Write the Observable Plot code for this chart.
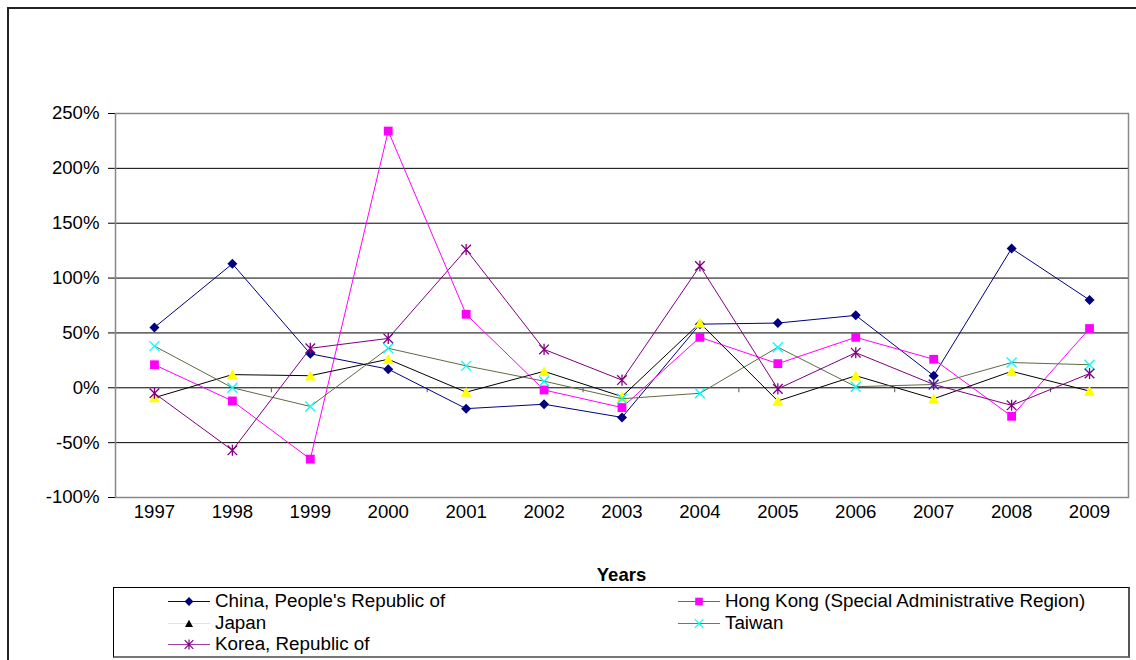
<!DOCTYPE html>
<html>
<head>
<meta charset="utf-8">
<script src="https://cdn.jsdelivr.net/npm/d3@7"></script>
<script src="https://cdn.jsdelivr.net/npm/@observablehq/plot@0.6"></script>
<style>
  html, body { margin: 0; padding: 0; background: #fff; overflow: hidden; }
  body { width: 1136px; height: 660px; position: relative; font-family: "Liberation Sans", Arial, sans-serif; }
  #outer { position: absolute; left: 7px; top: 7px; width: 1200px; height: 700px; border: 2px solid #222; box-sizing: border-box; }
  #chart { position: absolute; left: 0; top: 0; }
  #chart svg text { font-size: 18.6px; }
  #xlabel { position: absolute; left: 115px; width: 1013px; top: 564px; text-align: center; font-weight: bold; font-size: 18.5px; line-height: 22px; color: #000; }
  #legend { position: absolute; left: 113px; top: 587px; width: 1017px; height: 71px; box-sizing: border-box;
            border-left: 1px solid #000; border-top: 1px solid #000; border-right: 2px solid #555; border-bottom: 2px solid #777; }
  .item { position: absolute; height: 22px; }
  .item svg { position: absolute; left: 0; top: 0; }
  .item span { position: absolute; top: 0; font-size: 18.8px; line-height: 22px; white-space: nowrap; color: #000; }
</style>
</head>
<body>
<div id="outer"></div>
<div id="chart"></div>
<div id="xlabel">Years</div>
<div id="legend"></div>
<script>
// Year-on-year change, in percent
const years = [1997, 1998, 1999, 2000, 2001, 2002, 2003, 2004, 2005, 2006, 2007, 2008, 2009];
const china    = [55, 113, 31, 17, -19, -15, -27, 58, 59, 66, 11, 127, 80];
const hongKong = [21, -12, -65, 234, 67, -2, -18, 46, 22, 46, 26, -26, 54];
const japan    = [-9, 12, 11, 26, -4, 15, -8, 59, -12, 11, -10, 15, -3];
const taiwan   = [38, 0, -17, 36, 20, 6, -10, -5, 37, 1, 3, 23, 21];
const korea    = [-5, -57, 36, 45, 126, 35, 7, 111, -1, 32, 3, -16, 13];

const seriesNames = [
  "China, People's Republic of",
  "Hong Kong (Special Administrative Region)",
  "Japan",
  "Taiwan",
  "Korea, Republic of"
];
const yTicks = [-100, -50, 0, 50, 100, 150, 200, 250];
const gridValues = [-50, 0, 50, 100, 150, 200];
// small category-boundary marks hanging under the zero line
const minorTicks = [1998.5, 2000.5, 2002.5, 2004.5, 2006.5, 2008.5];

// Marker shapes; size arrives as r²·π, so recover r
const sym = fn => ({ draw(ctx, size) { fn(ctx, Math.sqrt(size / Math.PI)); } });
const diamond = sym((c, r) => { c.moveTo(0, -r); c.lineTo(r, 0); c.lineTo(0, r); c.lineTo(-r, 0); c.closePath(); });
const square = sym((c, r) => { c.rect(-r, -r, 2 * r, 2 * r); });
const triangle = sym((c, r) => { c.moveTo(0, -r); c.lineTo(r * 1.05, r * 0.9); c.lineTo(-r * 1.05, r * 0.9); c.closePath(); });
const cross = sym((c, r) => { c.moveTo(-r, -r); c.lineTo(r, r); c.moveTo(-r, r); c.lineTo(r, -r); });
const star = sym((c, r) => { c.moveTo(-r, -r); c.lineTo(r, r); c.moveTo(-r, r); c.lineTo(r, -r); c.moveTo(0, -r * 1.15); c.lineTo(0, r * 1.15); });

const series = [
  { name: seriesNames[0], values: china,    line: "#000080", symbol: diamond,  r: 5.0, fill: "#000080", stroke: "none",
    legendLine: "#000080", legendFill: "#000080", legendStroke: "none", legendR: 4.4 },
  { name: seriesNames[1], values: hongKong, line: "#FF00FF", symbol: square,   r: 4.4, fill: "#FF00FF", stroke: "none",
    legendLine: "#FF00FF", legendFill: "#FF00FF", legendStroke: "none", legendR: 3.8 },
  { name: seriesNames[2], values: japan,    line: "#000000", symbol: triangle, r: 5.2, fill: "#FFFF00", stroke: "none",
    legendLine: "#FFFF00", legendFill: "#000000", legendStroke: "none", legendR: 3.8 },
  { name: seriesNames[3], values: taiwan,   line: "#5E6B42", symbol: cross,    r: 5.0, fill: "none", stroke: "#00FFFF",
    legendLine: "#6E7B58", legendFill: "none", legendStroke: "#00FFFF", legendR: 4.3 },
  { name: seriesNames[4], values: korea,    line: "#800080", symbol: star,     r: 4.8, fill: "none", stroke: "#800080",
    legendLine: "#A040A0", legendFill: "none", legendStroke: "#800080", legendR: 4.3 }
];
series.forEach(s => { s.data = years.map((year, i) => ({ year, value: s.values[i] })); });

const seriesMarks = series.flatMap(s => [
  Plot.line(s.data, { x: "year", y: "value", stroke: s.line, strokeWidth: 1 }),
  Plot.dot(s.data, { x: "year", y: "value", symbol: s.symbol, r: s.r, fill: s.fill, stroke: s.stroke, strokeWidth: 1.3 })
]);

const chart = Plot.plot({
  width: 1136,
  height: 560,
  marginLeft: 115,
  marginRight: 8,
  marginTop: 113,
  marginBottom: 63,
  style: { fontFamily: "'Liberation Sans', Arial, sans-serif", fontSize: "18.6px", color: "#000", background: "transparent", overflow: "visible" },
  x: { domain: [1996.5, 2009.5], ticks: years, tickFormat: d => String(d), tickSize: 0, tickPadding: 7, label: null },
  y: { domain: [-100, 250], ticks: yTicks, tickFormat: d => d + "%", tickSize: 7, tickPadding: 9, label: null },
  marks: [
    Plot.ruleY(gridValues, { stroke: "#000", strokeWidth: 1 }),
    Plot.frame({ stroke: "#888", strokeWidth: 1.5 }),
    Plot.ruleX(minorTicks, { y1: 0, y2: -4.5, stroke: "#555" }),
    ...seriesMarks
  ]
});
document.getElementById("chart").appendChild(chart);

// Legend: two columns, filled row by row
const legend = document.getElementById("legend");
const colX = [54, 564];
const rowY = [2, 24, 45];
series.forEach((s, i) => {
  const col = i % 2, row = Math.floor(i / 2);
  const item = document.createElement("div");
  item.className = "item";
  item.style.left = colX[col] + "px";
  item.style.top = rowY[row] + "px";
  const p = d3.path();
  s.symbol.draw(p, s.legendR * s.legendR * Math.PI);
  item.innerHTML =
    `<svg width="44" height="22">
       <line x1="0" x2="42" y1="11.5" y2="11.5" stroke="${s.legendLine}" stroke-width="1"></line>
       <path transform="translate(21,11.5)" d="${p.toString()}" fill="${s.legendFill}" stroke="${s.legendStroke}" stroke-width="1.2"></path>
     </svg>`;
  const label = document.createElement("span");
  label.style.left = "47px";
  label.textContent = s.name;
  item.appendChild(label);
  legend.appendChild(item);
});
</script>
</body>
</html>
